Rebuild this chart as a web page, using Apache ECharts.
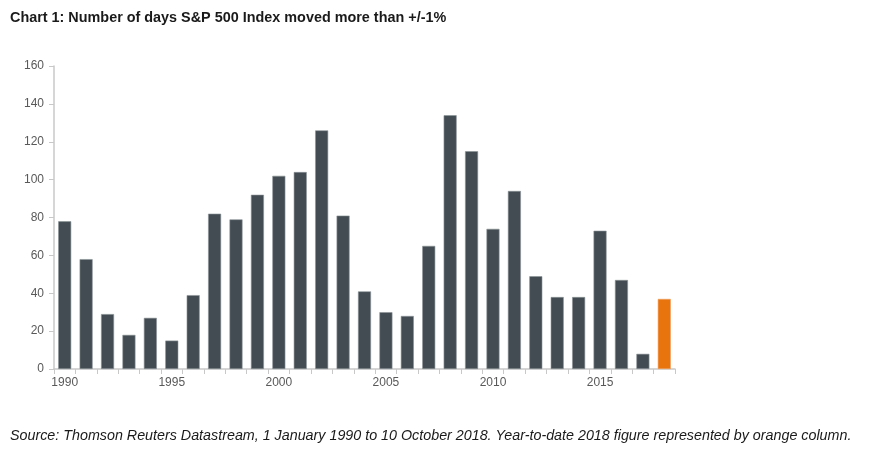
<!DOCTYPE html>
<html>
<head>
<meta charset="utf-8">
<script src="https://cdn.jsdelivr.net/npm/echarts@6/dist/echarts.min.js"></script>
<style>
html,body{margin:0;padding:0;background:#fff;}
#c{width:875px;height:454px;}
</style>
</head>
<body>
<div id="c"></div>
<script>
const years = [1990,1991,1992,1993,1994,1995,1996,1997,1998,1999,2000,2001,2002,2003,2004,2005,2006,2007,2008,2009,2010,2011,2012,2013,2014,2015,2016,2017,2018];
const days = [78,58,29,18,27,15,39,82,79,92,102,104,126,81,41,30,28,65,134,115,74,94,49,38,38,73,47,8,37];
const highlightYear = 2018;
const yTicks = [0,20,40,60,80,100,120,140,160];

const chart = echarts.init(document.getElementById('c'));
chart.setOption({
  animation:false,
  title:[
    {text:'Chart 1: Number of days S&P 500 Index moved more than +/-1%', left:5, top:6,
     textStyle:{fontFamily:'Liberation Sans, Arial', fontSize:14.4, fontWeight:'bold', color:'#1a1a1a'}},
    {text:'Source: Thomson Reuters Datastream, 1 January 1990 to 10 October 2018. Year-to-date 2018 figure represented by orange column.',
     left:5, top:424,
     textStyle:{fontFamily:'Liberation Sans, Arial', fontSize:14.3, fontStyle:'italic', fontWeight:'normal', color:'#1a1a1a'}}
  ],
  grid:{left:54, right:200, top:66, bottom:85, containLabel:false},
  xAxis:{
    type:'category', data:years.map(String), boundaryGap:true,
    axisLine:{lineStyle:{color:'#c8c8c8', width:1.5}},
    axisTick:{show:true, interval:0, length:5, lineStyle:{color:'#c8c8c8'}},
    axisLabel:{interval:4, color:'#595959', fontFamily:'Liberation Sans, Arial', fontSize:12, margin:8}
  },
  yAxis:{
    type:'value', min:yTicks[0], max:yTicks[yTicks.length-1], interval:20,
    splitLine:{show:false},
    axisLine:{show:true, lineStyle:{color:'#c8c8c8', width:1.5}},
    axisTick:{show:true, length:5, lineStyle:{color:'#c8c8c8'}},
    axisLabel:{color:'#595959', fontFamily:'Liberation Sans, Arial', fontSize:12, margin:10}
  },
  series:[{
    type:'bar',
    barWidth:13,
    data: days.map((v,i)=>({value:v, itemStyle:{color: years[i]===highlightYear ? '#e8740e' : '#434c53',
      borderColor: years[i]===highlightYear ? '#f0a060' : '#8c9397', borderWidth:0.6}}))
  }]
});
</script>
</body>
</html>
